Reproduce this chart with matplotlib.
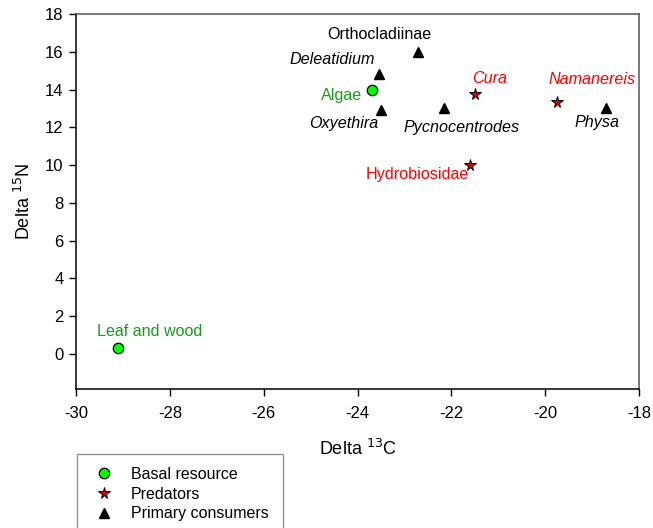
"""Stable isotope biplot (delta 13C vs delta 15N) of a stream food web."""

import matplotlib
matplotlib.use("Agg")
import matplotlib.pyplot as plt
from matplotlib.ticker import MultipleLocator

plt.rcParams['font.family'] = ['Liberation Sans', 'DejaVu Sans']
plt.rcParams['axes.unicode_minus'] = False

# Basal resources
basal_names = ['Leaf and wood', 'Algae']
basal_c = [-29.1, -23.7]
basal_n = [0.3, 14.0]

# Predators
pred_names = ['Cura', 'Namanereis', 'Hydrobiosidae']
pred_c = [-21.5, -19.75, -21.6]
pred_n = [13.75, 13.35, 10.0]

# Primary consumers
prim_names = ['Orthocladiinae', 'Deleatidium', 'Oxyethira', 'Pycnocentrodes', 'Physa']
prim_c = [-22.7, -23.55, -23.5, -22.15, -18.7]
prim_n = [16.0, 14.85, 12.9, 13.0, 13.0]

# label offsets (pixels) and styles
label_style = {
    'Leaf and wood': ((31, 17), 'normal', '#1a9a1a'),
    'Algae': ((-30, -6), 'normal', '#1a9a1a'),
    'Cura': ((15, 16), 'italic', 'red'),
    'Namanereis': ((35, 22), 'italic', 'red'),
    'Hydrobiosidae': ((-53, -9), 'normal', 'red'),
    'Orthocladiinae': ((-39, 17), 'normal', 'black'),
    'Deleatidium': ((-46, 14), 'italic', 'black'),
    'Oxyethira': ((-37, -13), 'italic', 'black'),
    'Pycnocentrodes': ((17, -19), 'italic', 'black'),
    'Physa': ((-9, -14), 'italic', 'black'),
}

fig = plt.figure(figsize=(6.53, 5.28), dpi=100)
ax = fig.add_axes([76 / 653, 1 - 389 / 528, 563 / 653, 375 / 528])

ax.plot(basal_c, basal_n, 'o', ms=7.5, mfc='#00ff00', mec='black', mew=0.9,
        label='Basal resource', zorder=3)
ax.plot(pred_c, pred_n, '*', ms=8.5, mfc='#dd0000', mec='black', mew=0.7,
        label='Predators', zorder=3)
ax.plot(prim_c, prim_n, '^', ms=7, color='black', label='Primary consumers',
        zorder=3)

for names, xs, ys in [(basal_names, basal_c, basal_n),
                      (pred_names, pred_c, pred_n),
                      (prim_names, prim_c, prim_n)]:
    for name, x, y in zip(names, xs, ys):
        off, style, col = label_style[name]
        ax.annotate(name, (x, y), xytext=off, textcoords='offset pixels',
                    ha='center', va='center', fontsize=11.6, fontstyle=style,
                    color=col)

ax.set_xlim(-30, -18)
ax.set_ylim(-1.85, 18)
ax.xaxis.set_major_locator(MultipleLocator(2))
ax.yaxis.set_major_locator(MultipleLocator(2))
ax.tick_params(direction='out', length=5, width=1, labelsize=12)
ax.tick_params(axis='y', pad=4)
ax.tick_params(axis='x', pad=7)

ax.spines['left'].set_linewidth(1.1)
ax.spines['bottom'].set_linewidth(1.1)
for side in ['top', 'right']:
    ax.spines[side].set_color('#555555')
    ax.spines[side].set_linewidth(1.1)

ax.set_xlabel('Delta $^{13}$C', fontsize=13, labelpad=13)
ax.set_ylabel('Delta $^{15}$N', fontsize=13, labelpad=8)

leg = fig.legend(loc='upper left', bbox_to_anchor=(77 / 653, 1 - 454 / 528),
                 frameon=True, fancybox=False, fontsize=11.5, borderpad=0.8,
                 handletextpad=0.9, labelspacing=0.3, handlelength=1.6,
                 borderaxespad=0)
leg.get_frame().set_edgecolor('#777777')
leg.get_frame().set_linewidth(1.0)
# stretch frame a little to the right like the original
leg._legend_box.set_width(180)

fig.savefig('out.png', dpi=100)
